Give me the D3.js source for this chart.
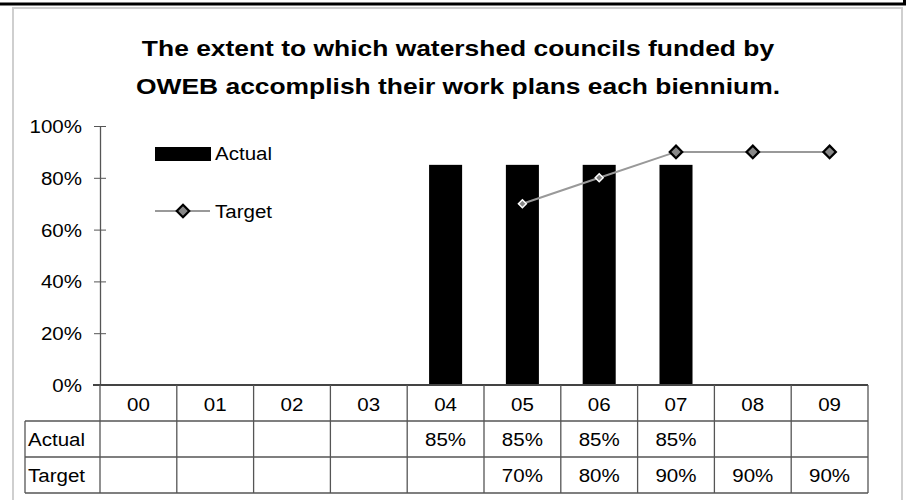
<!DOCTYPE html>
<html><head><meta charset="utf-8">
<script src="https://cdn.jsdelivr.net/npm/d3@7"></script>
<style>body{margin:0;background:#fff}svg{display:block}text{font-family:Arial,"Liberation Sans",sans-serif}</style>
</head><body>
<svg id="c" width="906" height="500"></svg>
<script>
const categories = ["00","01","02","03","04","05","06","07","08","09"];
const actual = [null,null,null,null,85,85,85,85,null,null];
const target = [null,null,null,null,null,70,80,90,90,90];
const targetBigMarker = [false,false,false,false,false,false,false,true,true,true];
const yTicks = [0,20,40,60,80,100];
const titleLines = ["The extent to which watershed councils funded by","OWEB accomplish their work plans each biennium."];
const seriesNames = ["Actual","Target"];

const svg = d3.select("#c");
const STRETCH = 1.14;
function stretch(sel, k){
  sel.each(function(){
    const w = this.getComputedTextLength();
    d3.select(this).attr("textLength", w*(k||STRETCH)).attr("lengthAdjust","spacingAndGlyphs");
  });
}
// frames
svg.append("rect").attr("x",13).attr("y",8).attr("width",889).attr("height",500).attr("fill","none").attr("stroke","#cfcfcf").attr("stroke-width",2);
svg.append("path").attr("d","M0,4H904.5V0").attr("fill","none").attr("stroke","#000").attr("stroke-width",3);

// title
const tt = svg.append("g").selectAll("text").data(titleLines).join("text")
  .attr("x",458).attr("y",(d,i)=>56+i*38).attr("text-anchor","middle")
  .attr("font-weight","bold").attr("font-size",22).attr("fill","#000").text(d=>d);
stretch(tt, 1.2);

const x = d3.scaleBand().domain(categories).range([100,868]).padding(0);
const y = d3.scaleLinear().domain([0,100]).range([385,126]);
const bw = x.bandwidth()*0.43;
const fs = 18;

// y axis
const yAxis = d3.axisLeft(y).tickValues(yTicks).tickFormat(d=>d+"%").tickSizeInner(6).tickSizeOuter(0);
const ya = svg.append("g").attr("transform","translate(100,0)").call(yAxis);
ya.select(".domain").attr("stroke","#555").attr("stroke-width",1.3);
ya.selectAll(".tick line").attr("stroke","#555").attr("x1",6).attr("x2",-6);
ya.selectAll(".tick text").attr("font-size",fs).attr("fill","#000").attr("x",-18).attr("dy","0.36em").style("font-family","Arial, 'Liberation Sans', sans-serif");
stretch(ya.selectAll(".tick text"));

// bars
svg.append("g").selectAll("rect").data(categories.map((c,i)=>({c,v:actual[i]})).filter(d=>d.v!=null)).join("rect")
  .attr("x",d=>x(d.c)+(x.bandwidth()-bw)/2).attr("y",d=>y(d.v)).attr("width",bw).attr("height",d=>y(0)-y(d.v)).attr("fill","#000");

// target line
const tdata = categories.map((c,i)=>({c,v:target[i],big:targetBigMarker[i]})).filter(d=>d.v!=null);
const line = d3.line().x(d=>x(d.c)+x.bandwidth()/2).y(d=>y(d.v));
svg.append("path").datum(tdata).attr("d",line).attr("fill","none").attr("stroke","#999").attr("stroke-width",2);
const sym = d3.symbol().type(d3.symbolDiamond2);
svg.append("g").selectAll("path").data(tdata).join("path")
  .attr("transform",d=>`translate(${x(d.c)+x.bandwidth()/2},${y(d.v)})`)
  .attr("d",d=>sym.size(d.big?100:40)())
  .attr("fill","#888").attr("stroke",d=>d.big?"#000":"#fff").attr("stroke-width",d=>d.big?2.2:1.5);

// x axis line
svg.append("line").attr("x1",93).attr("x2",868).attr("y1",385).attr("y2",385).attr("stroke","#444").attr("stroke-width",2);

// legend
svg.append("rect").attr("x",155).attr("y",147).attr("width",56).attr("height",14).attr("fill","#000");
const l1 = svg.append("text").attr("x",215).attr("y",160).attr("font-size",fs).text(seriesNames[0]);
svg.append("line").attr("x1",155).attr("x2",210).attr("y1",211).attr("y2",211).attr("stroke","#999").attr("stroke-width",2);
svg.append("path").attr("transform","translate(183,211)").attr("d",sym.size(100)()).attr("fill","#888").attr("stroke","#000").attr("stroke-width",2.2);
const l2 = svg.append("text").attr("x",215).attr("y",218).attr("font-size",fs).text(seriesNames[1]);
stretch(l1); stretch(l2);

// data table
const tg = svg.append("g").attr("stroke","#555").attr("stroke-width",1.3);
[421,457,493].forEach(yy=>tg.append("line").attr("x1",25).attr("x2",868).attr("y1",yy).attr("y2",yy));
tg.append("line").attr("x1",25).attr("x2",25).attr("y1",421).attr("y2",493);
tg.append("line").attr("x1",100).attr("x2",100).attr("y1",385).attr("y2",493);
tg.selectAll(".v").data(categories).join("line").attr("class","v")
  .attr("x1",d=>x(d)+x.bandwidth()).attr("x2",d=>x(d)+x.bandwidth()).attr("y1",385).attr("y2",493);

const hd = svg.append("g").selectAll("text").data(categories).join("text")
  .attr("x",d=>x(d)+x.bandwidth()/2).attr("y",411).attr("text-anchor","middle").attr("font-size",fs).text(d=>d);
stretch(hd);
const rows = [actual,target];
rows.forEach((r,ri)=>{
  const rl = svg.append("text").attr("x",28).attr("y",446+ri*36).attr("font-size",fs).text(seriesNames[ri]);
  stretch(rl);
  const cells = svg.append("g").selectAll("text").data(categories.map((c,i)=>({c,v:r[i]})).filter(d=>d.v!=null)).join("text")
    .attr("x",d=>x(d.c)+x.bandwidth()/2).attr("y",446+ri*36).attr("text-anchor","middle").attr("font-size",fs).text(d=>d.v+"%");
  stretch(cells);
});
</script>
</body></html>
